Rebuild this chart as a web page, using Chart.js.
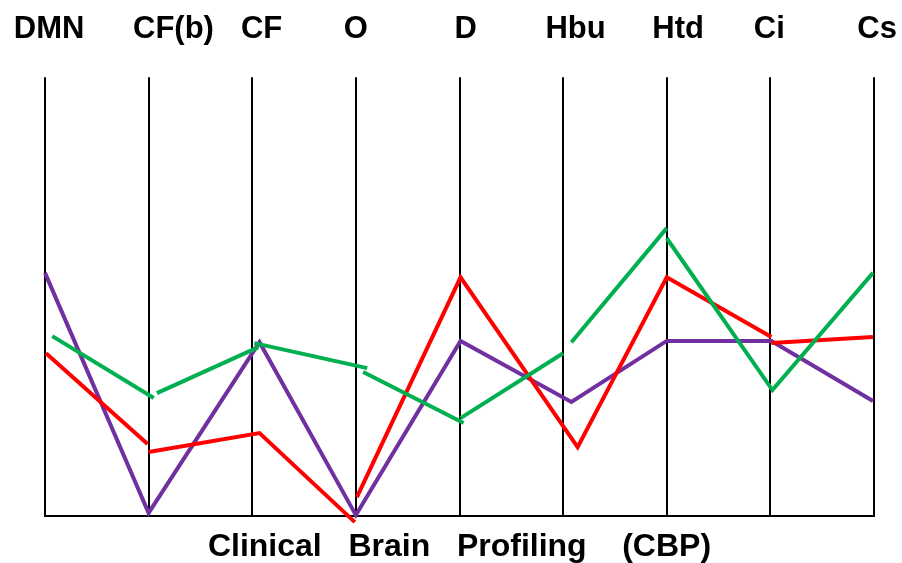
<!DOCTYPE html>
<html>
<head>
<meta charset="utf-8">
<script src="https://cdn.jsdelivr.net/npm/chart.js@4.4.1/dist/chart.umd.min.js"></script>
<style>
  html, body { margin: 0; padding: 0; background: #fff; }
  #wrap { width: 902px; height: 563px; }
</style>
</head>
<body>
<div id="wrap"><canvas id="chart" width="902" height="563"></canvas></div>
<script>
// categories along the top, and where each name sits on the x scale
const categories = ['DMN', 'CF(b)', 'CF', 'O', 'D', 'Hbu', 'Htd', 'Ci', 'Cs'];
const labelPos = [0.04, 1.24, 2.09, 3.0, 4.06, 5.12, 6.11, 6.99, 8.03];

// each series is drawn as separate strokes, [x, y] in axis units
const purpleLine = [[0, 55.4], [1.0, 0.7], [2.07, 39.6], [3.0, 0.2], [4.01, 39.9],
  [5.08, 26.0], [6.0, 39.9], [7.01, 39.9], [7.99, 26.2]];

const redParts = [
  [[0.01, 37.1], [0.99, 16.4]],
  [[1.0, 14.6], [2.07, 18.9], [2.99, -1.4]],
  [[3.01, 4.3], [4.01, 54.4], [5.14, 15.7], [6.0, 54.4], [7.01, 40.8]],
  [[7.01, 39.4], [7.99, 40.8]]
];

const greenParts = [
  [[0.07, 41.0], [1.05, 26.9]],
  [[1.08, 28.0], [2.06, 38.5]],
  [[2.02, 39.4], [3.11, 33.7]],
  [[3.07, 32.8], [4.04, 21.2]],
  [[4.01, 22.3], [5.0, 37.1]],
  [[5.08, 39.6], [6.0, 65.6]],
  [[6.0, 63.3], [7.02, 28.7], [7.99, 55.4]]
];

const FONT = '"Liberation Sans", Arial, sans-serif';

function stroke(points, color) {
  return {
    data: points.map(p => ({ x: p[0], y: p[1] })),
    borderColor: color,
    borderWidth: 4,
    pointRadius: 0,
    tension: 0,
    fill: false,
    clip: false
  };
}

// first dataset is painted last, so green ends up on top
const datasets = []
  .concat(greenParts.map(p => stroke(p, '#00B050')))
  .concat(redParts.map(p => stroke(p, '#FF0000')))
  .concat([stroke(purpleLine, '#7030A0')]);

new Chart(document.getElementById('chart'), {
  type: 'line',
  data: { datasets: datasets },
  options: {
    responsive: false,
    animation: false,
    layout: { padding: { top: 11, left: 45, right: 28, bottom: 0 } },
    plugins: { legend: { display: false }, tooltip: { enabled: false } },
    scales: {
      x: {
        type: 'linear',
        position: 'bottom',
        min: 0,
        max: 8,
        ticks: { stepSize: 1, display: false },
        grid: { color: '#000', lineWidth: 2, drawTicks: false },
        border: { color: '#000', width: 2 },
        title: {
          display: true,
          text: 'Clinical   Brain   Profiling    (CBP)',
          color: '#000',
          font: { family: FONT, size: 32, weight: 'bold', lineHeight: 1 },
          padding: { top: 15, bottom: 0 }
        }
      },
      top: {
        type: 'linear',
        position: 'top',
        min: 0,
        max: 8,
        afterBuildTicks: axis => { axis.ticks = labelPos.map(v => ({ value: v })); },
        ticks: {
          autoSkip: false,
          maxRotation: 0,
          minRotation: 0,
          padding: 0,
          color: '#000',
          font: { family: FONT, size: 31, weight: 'bold' },
          callback: (v, i) => categories[i]
        },
        grid: { display: true, drawOnChartArea: false, drawTicks: true, tickLength: 29, color: 'rgba(0,0,0,0)' },
        border: { display: false }
      },
      y: { display: false, min: 0, max: 100 }
    }
  }
});
</script>
</body>
</html>
